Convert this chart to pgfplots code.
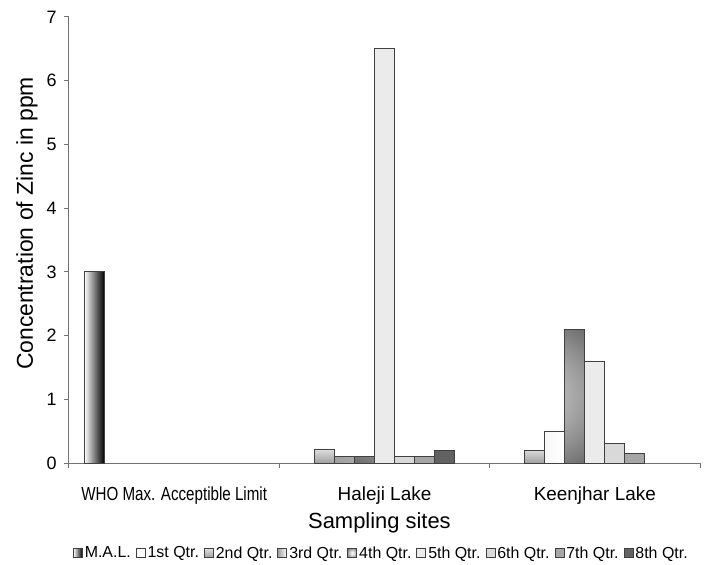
\documentclass[border=0pt]{standalone}
\usepackage{fontspec}
\setmainfont{Liberation Sans}
\usepackage{graphicx}
\usepackage{pgfplots}
\pgfplotsset{compat=1.18}
\usetikzlibrary{calc}
\pgfdeclareradialshading{barglow}{\pgfpoint{0bp}{0bp}}{color(0bp)=(white); color(10bp)=(white!88!black); color(38bp)=(black!62); color(50bp)=(black!62)}
\begin{document}
\begin{tikzpicture}
\begin{axis}[
  width=631bp, height=446bp, scale only axis,
  ybar, bar width=0.095,
  xmin=-0.5, xmax=2.5, ymin=0, ymax=7,
  ytick={0,1,2,3,4,5,6,7},
  axis x line*=bottom, axis y line*=left,
  axis line style={black!55, line width=1bp},
  xtick={-0.5,0.5,1.5,2.5}, xticklabels={},
  extra x ticks={0,1,2},
  extra x tick labels={\scalebox{0.8}[1]{WHO Max. Acceptible Limit}, Haleji Lake, Keenjhar Lake},
  extra x tick style={major tick length=0pt, tick label style={font=\fontsize{19}{22}\selectfont, yshift=-20bp}},
  tick align=outside, major tick length=5bp,
  tick style={black!55, line width=1bp},
  /pgf/number format/assume math mode=true,
  yticklabel style={font=\fontsize{18}{21}\selectfont, xshift=-4bp},
  xlabel={Sampling sites},
  xlabel style={font=\fontsize{22}{26}\selectfont, at={(axis description cs:0.492,-0.1345)}, anchor=center},
  ylabel={Concentration of Zinc in ppm},
  ylabel style={font=\fontsize{23}{27}\selectfont, at={(axis description cs:-0.0666,0.537)}, anchor=center},
  legend style={draw=none, fill=none, at={(axis description cs:0.495,-0.2018)}, anchor=center,
    font=\fontsize{16}{19}\selectfont, inner sep=0pt,
    /tikz/every even column/.append style={column sep=3bp}},
  legend columns=9,
  legend image code/.code={\draw[#1] (0bp,-4.5bp) rectangle (9bp,4.5bp);},
]
% M.A.L.
\addplot[draw=black!75, line width=0.8bp, left color=white, right color=black, bar shift=-0.38]
  coordinates {(0,3)};
\addlegendentry{M.A.L.}
% 1st Qtr (no bars)
\addlegendimage{draw=black!75, line width=0.8bp, fill=white}
\addlegendentry{1st Qtr.}
% 2nd Qtr
\addplot[draw=black!75, line width=0.8bp, top color=gray!25, bottom color=gray!75, bar shift=-0.285]
  coordinates {(1,0.22) (2,0.2)};
\addlegendentry{2nd Qtr.}
% 3rd Qtr
\addplot[draw=black!75, line width=0.8bp, left color=gray!75, right color=white, bar shift=-0.19]
  coordinates {(1,0.1) (2,0.5)};
\addlegendentry{3rd Qtr.}
% 4th Qtr
\addplot[draw=black!75, line width=0.8bp, shading=barglow, bar shift=-0.095]
  coordinates {(1,0.1) (2,2.1)};
\addlegendentry{4th Qtr.}
% 5th Qtr
\addplot[draw=black!75, line width=0.8bp, fill=black!8, bar shift=0]
  coordinates {(1,6.5) (2,1.6)};
\addlegendentry{5th Qtr.}
% 6th Qtr
\addplot[draw=black!75, line width=0.8bp, fill=black!15, bar shift=0.095]
  coordinates {(1,0.1) (2,0.3)};
\addlegendentry{6th Qtr.}
% 7th Qtr
\addplot[draw=black!75, line width=0.8bp, fill=black!35, bar shift=0.19]
  coordinates {(1,0.1) (2,0.15)};
\addlegendentry{7th Qtr.}
% 8th Qtr
\addplot[draw=black!75, line width=0.8bp, fill=black!62, bar shift=0.285]
  coordinates {(1,0.2)};
\addlegendentry{8th Qtr.}
\end{axis}
\pgfresetboundingbox
\path ($(current axis.south west)+(-69bp,-102bp)$) rectangle ($(current axis.north east)+(12bp,17bp)$);
\end{tikzpicture}
\end{document}
